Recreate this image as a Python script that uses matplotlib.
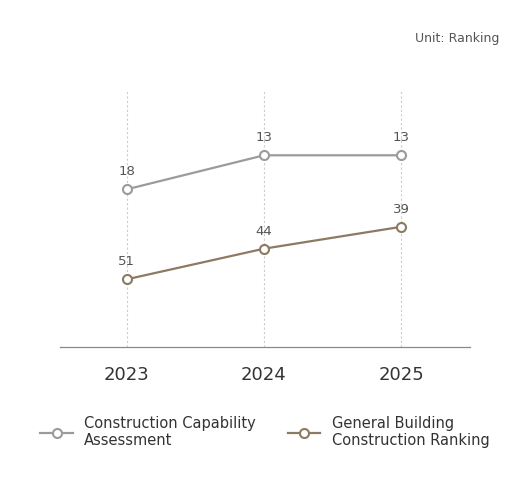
import matplotlib.pyplot as plt

years = ['2023', '2024', '2025']
capability = [18, 13, 13]
general = [51, 44, 39]

c1 = '#9b9b9b'
c2 = '#8c7a62'

fig = plt.figure(figsize=(5.3, 4.84), dpi=100)
ax = fig.add_axes([0.113, 0.283, 0.774, 0.531])
ax2 = ax.twinx()

x = list(range(len(years)))
for xi in x:
    ax.axvline(xi, color='#cccccc', lw=0.8, ls=(0, (2, 2)), zorder=0)

ax.plot(x, capability, color=c1, lw=1.6, marker='o', ms=6.5, mfc='white', mew=1.5,
        label='Construction Capability\nAssessment')
ax2.plot(x, general, color=c2, lw=1.6, marker='o', ms=6.5, mfc='white', mew=1.5,
         label='General Building\nConstruction Ranking')
for xi, v in zip(x, capability):
    ax.annotate(str(v), (xi, v), xytext=(0, 8), textcoords='offset points',
                ha='center', va='bottom', fontsize=9.5, color='#555555')
for xi, v in zip(x, general):
    ax2.annotate(str(v), (xi, v), xytext=(0, 8), textcoords='offset points',
                 ha='center', va='bottom', fontsize=9.5, color='#555555')

ax.set_xlim(-0.489, 2.504)
ax.set_ylim(41.2, 3.4)
ax2.set_ylim(66.5, 7.7)
ax.set_xticks(x)
ax.set_xticklabels(years, fontsize=13, color='#333333')
ax.tick_params(axis='x', length=0, pad=14)
for a in (ax, ax2):
    a.set_yticks([])
    for s in ['top', 'left', 'right']:
        a.spines[s].set_visible(False)
    a.spines['bottom'].set_color('#888888')

fig.text(0.943, 0.92, 'Unit: Ranking', ha='right', va='center', fontsize=9, color='#555555')

h1, l1 = ax.get_legend_handles_labels()
h2, l2 = ax2.get_legend_handles_labels()
fig.legend(h1 + h2, l1 + l2, loc='center', bbox_to_anchor=(0.5, 0.108), ncol=2,
           frameon=False, fontsize=10.5, handlelength=2.2, columnspacing=2.2,
           labelcolor='#333333')

fig.savefig('out.png', dpi=100)
